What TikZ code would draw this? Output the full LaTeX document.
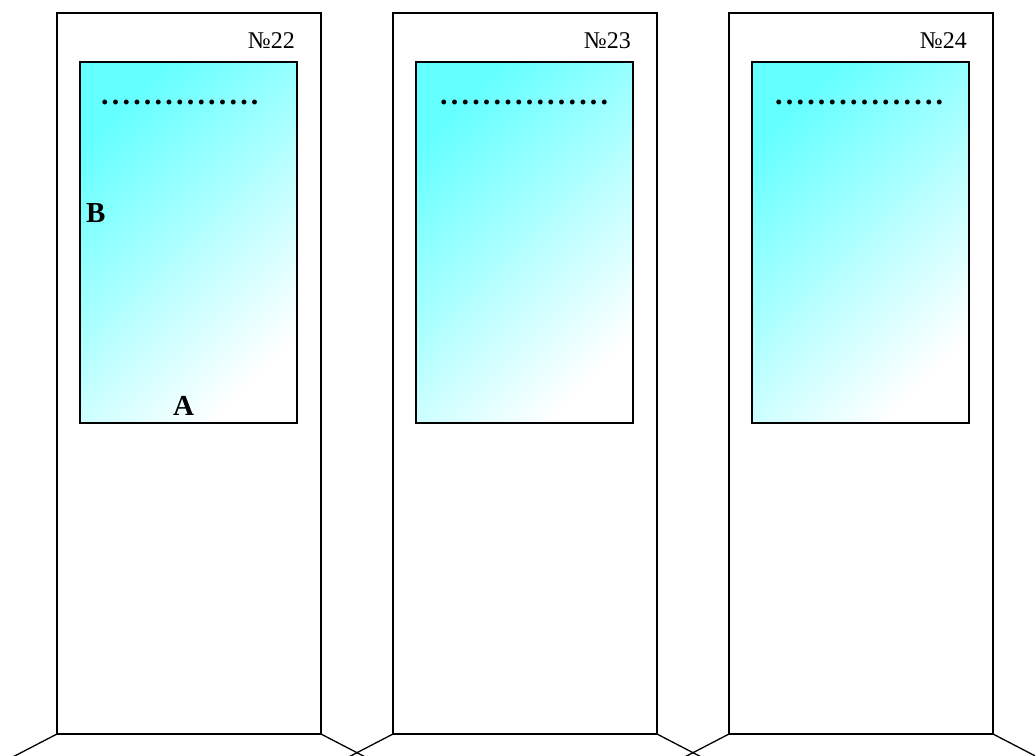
\documentclass[tikz,border=0pt]{standalone}
\usepackage{fontspec}
\setmainfont{Liberation Serif}
\begin{document}
\begin{tikzpicture}[x=1pt,y=-1pt,
  stand/.style={draw=black,line width=1.3pt,fill=white},
  panel/.style={draw=black,line width=1.3pt,shading=axis,top color=scyan,middle color=scyan!45!white,bottom color=white,shading angle=45},
  foot/.style={draw=black,line width=1.3pt},
  numtext/.style={font=\fontsize{24}{24}\selectfont,anchor=base east,inner sep=0pt},
  lettertext/.style={font=\fontsize{29}{29}\selectfont\bfseries,anchor=base west,inner sep=0pt},
  dottext/.style={font=\fontsize{30}{30}\selectfont\bfseries,anchor=base west,inner sep=0pt}]
\definecolor{scyan}{RGB}{100,255,255}
\useasboundingbox (0,0) rectangle (1035,755);
\clip (0,0) rectangle (1035,755);
\def\dd{.\kern3.2pt}
% feet
\foreach \x [count=\i] in {57,393,729}{
  \coordinate (bl\i) at (\x,734);
  \coordinate (br\i) at ({\x+264},734);
  \coordinate (fl\i) at ({\x-52},761);
  \coordinate (fr\i) at ({\x+264+52},761);
  \draw[foot] (bl\i) -- (fl\i);
  \draw[foot] (br\i) -- (fr\i);
}
% stands
\foreach \x [count=\i] in {57,393,729}{
  \draw[stand] (\x,13) rectangle ({\x+264},734);
  \shade[panel] ({\x+23},62) rectangle ({\x+240},423);
}
\node[numtext] (n22) at (295,48) {№22};
\node[numtext] (n23) at (631,48) {№23};
\node[numtext] (n24) at (967,48) {№24};
\node[dottext] (d1) at (101,104) {\dd\dd\dd\dd\dd\dd\dd\dd\dd\dd\dd\dd\dd\dd.};
\node[dottext] (d2) at (440,104) {\dd\dd\dd\dd\dd\dd\dd\dd\dd\dd\dd\dd\dd\dd\dd.};
\node[dottext] (d3) at (775,104) {\dd\dd\dd\dd\dd\dd\dd\dd\dd\dd\dd\dd\dd\dd\dd.};
\node[lettertext] (B) at (86,222) {B};
\node[lettertext] (A) at (173,415) {A};
\end{tikzpicture}
\end{document}
